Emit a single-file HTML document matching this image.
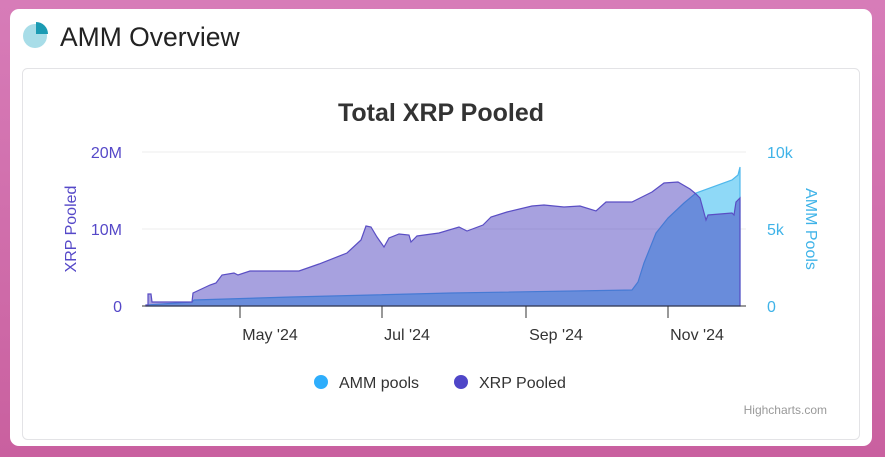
<!DOCTYPE html>
<html><head><meta charset="utf-8"><style>
html,body{margin:0;padding:0;width:885px;height:457px;overflow:hidden;background:linear-gradient(180deg,#d77cb8,#c9609f);font-family:"Liberation Sans",Arial,sans-serif}
</style></head><body>
<svg width="885" height="457" viewBox="0 0 885 457" xmlns="http://www.w3.org/2000/svg" style="position:absolute;left:0;top:0">
<rect x="10" y="9" width="862" height="437" rx="9" fill="#fff"/>
<rect x="22.5" y="68.5" width="837" height="371" rx="5" fill="#fff" stroke="#e3e3e6"/>
<circle cx="35" cy="36" r="12" fill="#a8dde8"/>
<path d="M36 22 A12 12 0 0 1 48 34 L36 34 Z" fill="#1b9bb3"/>
<text x="60" y="46" font-size="26.5" fill="#222">AMM Overview</text>
<text x="441" y="121" font-size="25" font-weight="bold" fill="#333" text-anchor="middle">Total XRP Pooled</text>
<line x1="142" y1="152" x2="746" y2="152" stroke="#eee"/>
<line x1="142" y1="229" x2="746" y2="229" stroke="#eee"/>
<g font-size="16" fill="#5548c8" text-anchor="end">
<text x="122" y="158">20M</text><text x="122" y="235">10M</text><text x="122" y="312">0</text></g>
<g font-size="16" fill="#3fb3e8">
<text x="767" y="158">10k</text><text x="767" y="235">5k</text><text x="767" y="312">0</text></g>
<text transform="translate(76,229) rotate(-90)" font-size="16" fill="#5548c8" text-anchor="middle">XRP Pooled</text>
<text transform="translate(806,229) rotate(90)" font-size="16" fill="#3fb3e8" text-anchor="middle">AMM Pools</text>
<path d="M146 306 L146 305 L192 302 L194 300 L291 297 L451 293 L632 290 L638 282 L644 263 L656 233 L668 218 L684 203 L696 193 L732 180 L738 175 L740 167 L740 306 Z" fill="#8fd9f7" stroke="#4fb8ec" stroke-width="1.2"/>
<path d="M146 306 L146 305 L148 305 L148 294 L151 294 L152 302 L192 302 L193 293 L210 285 L216 283 L222 275 L234 273 L238 275 L250 271 L299 271 L319 264 L347 253 L361 240 L366 226 L371 227 L377 237 L384 247 L389 238 L399 234 L409 235 L411 242 L417 236 L439 233 L459 227 L467 231 L483 225 L491 217 L507 212 L532 206 L544 205 L564 207 L580 206 L596 211 L606 202 L632 202 L652 192 L664 183 L678 182 L690 189 L696 194 L700 198 L706 220 L708 215 L732 213 L734 215 L736 202 L740 198 L740 306 Z" fill="rgba(60,46,185,0.45)" stroke="#5a4ec4" stroke-width="1.2"/>
<line x1="142" y1="306" x2="746" y2="306" stroke="#333"/>
<g stroke="#333"><line x1="240" y1="306" x2="240" y2="318"/><line x1="382" y1="306" x2="382" y2="318"/><line x1="526" y1="306" x2="526" y2="318"/><line x1="668" y1="306" x2="668" y2="318"/></g>
<g font-size="16" fill="#333" text-anchor="middle">
<text x="270" y="340">May '24</text><text x="407" y="340">Jul '24</text><text x="556" y="340">Sep '24</text><text x="697" y="340">Nov '24</text></g>
<circle cx="321" cy="382" r="7" fill="#2eaefc"/>
<text x="339" y="388" font-size="16" fill="#333">AMM pools</text>
<circle cx="461" cy="382" r="7" fill="#4f46c8"/>
<text x="479" y="388" font-size="16" fill="#333">XRP Pooled</text>
<text x="827" y="414" font-size="12" fill="#999" text-anchor="end">Highcharts.com</text>
</svg>
</body></html>
